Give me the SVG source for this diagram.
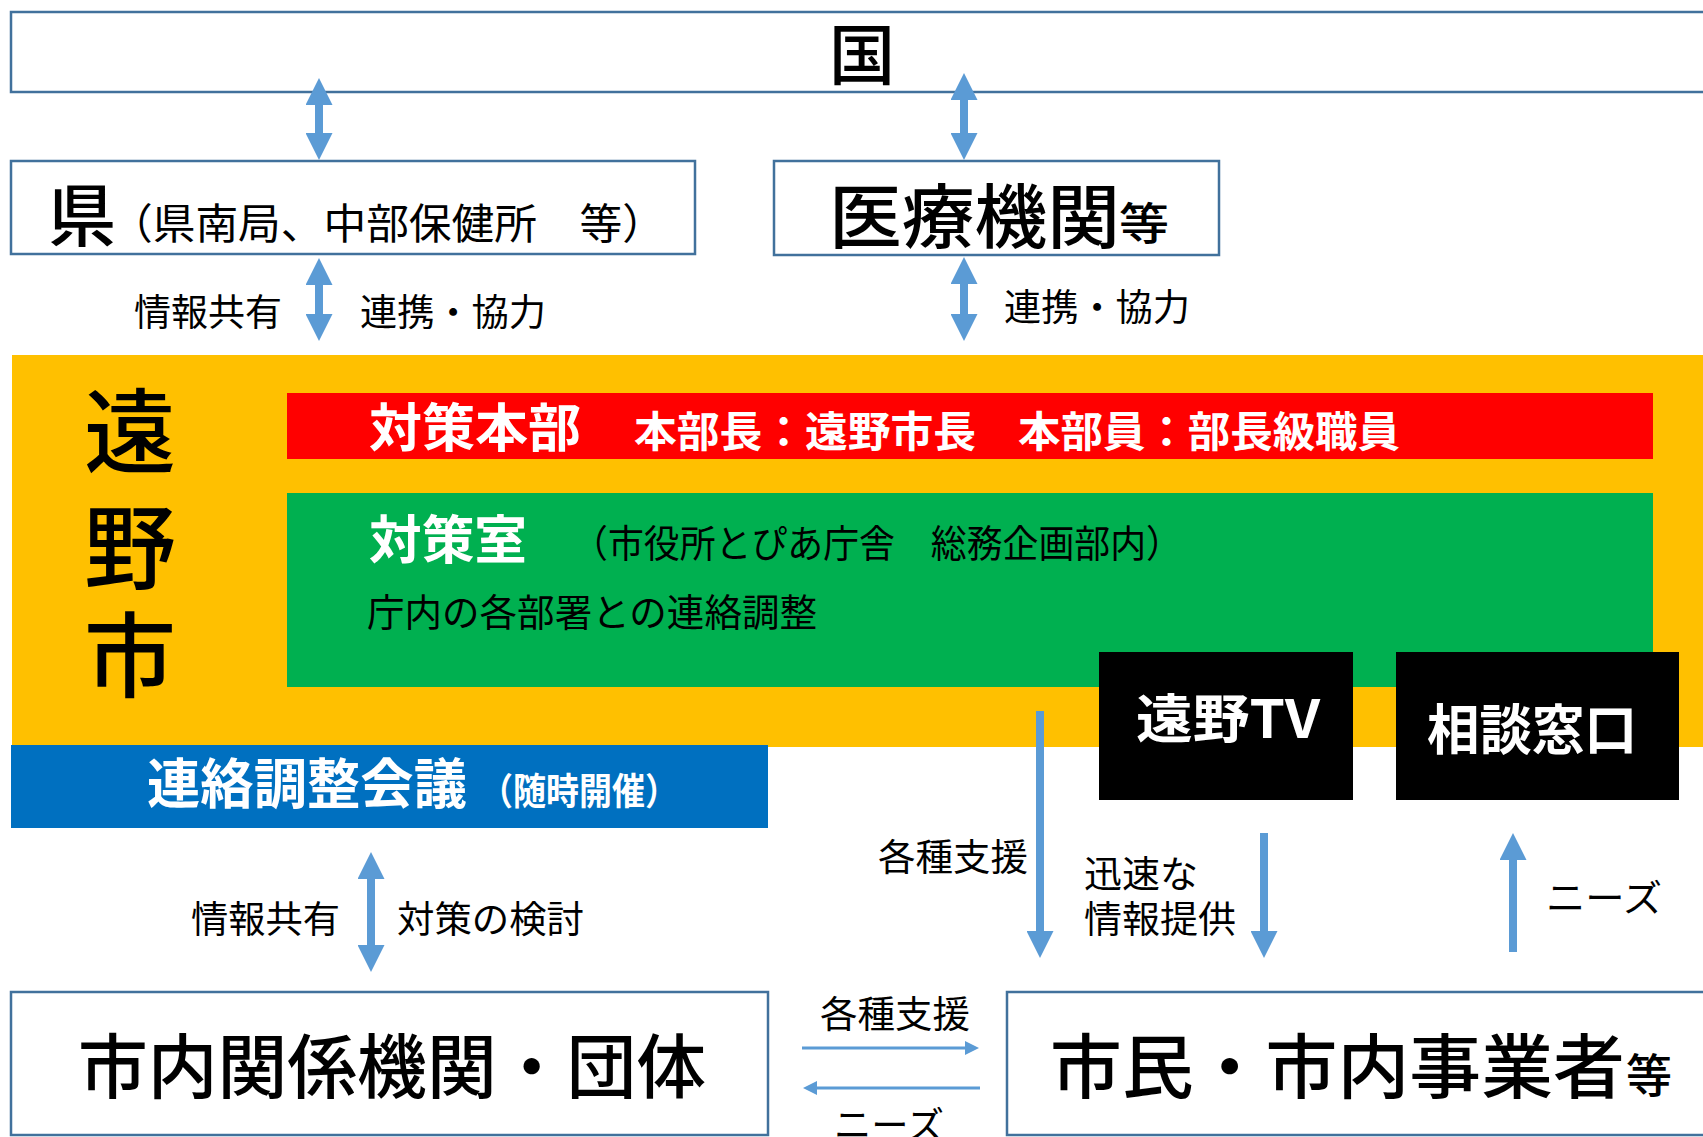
<svg xmlns="http://www.w3.org/2000/svg" width="1703" height="1137" viewBox="0 0 1703 1137">
<defs>
<style>
.box{fill:#fff;stroke:#41719C;stroke-width:2.5}
.t{font-family:"Noto Sans CJK JP","Noto Sans",sans-serif;fill:#000}
.m{font-weight:500}
.b{font-weight:bold}
.w{fill:#fff}
.thick{stroke:#5B9BD5;stroke-width:8;fill:none}
.thin{stroke:#5B9BD5;stroke-width:3;fill:none}
</style>
<marker id="h" viewBox="0 0 27 27" refX="0" refY="13.5" markerWidth="27" markerHeight="27" markerUnits="userSpaceOnUse" orient="auto-start-reverse">
<path d="M0,0 L27,13.5 L0,27 z" fill="#5B9BD5"/>
</marker>
<marker id="s" viewBox="0 0 14 14" refX="0" refY="7" markerWidth="14" markerHeight="14" markerUnits="userSpaceOnUse" orient="auto-start-reverse">
<path d="M0,0 L14,7 L0,14 z" fill="#5B9BD5"/>
</marker>
</defs>
<rect width="1703" height="1137" fill="#fff"/>

<g id="kuni">
<rect class="box" x="11" y="12" width="1710" height="80"/>
<text class="t m" x="862" y="79" font-size="66" text-anchor="middle">国</text>
</g>

<g id="ken">
<rect class="box" x="11" y="161" width="684" height="93"/>
<text class="t m" x="48" y="241" font-size="68" textLength="68" lengthAdjust="spacingAndGlyphs">県</text>
<text class="t" x="110" y="239" font-size="42" textLength="555" lengthAdjust="spacingAndGlyphs">（県南局、中部保健所　等）</text>
</g>

<g id="iryo">
<rect class="box" x="774" y="161" width="445" height="94"/>
<text class="t m" x="829" y="243" font-size="70" textLength="291" lengthAdjust="spacingAndGlyphs">医療機関</text>
<text class="t m" x="1119" y="240" font-size="44" textLength="50" lengthAdjust="spacingAndGlyphs">等</text>
</g>

<g id="tonoshi">
<rect x="12" y="355" width="1700" height="392" fill="#FFC000"/>
<text class="t m" x="130" y="466" font-size="92" text-anchor="middle">遠</text>
<text class="t m" x="130" y="582" font-size="92" text-anchor="middle">野</text>
<text class="t m" x="130" y="690" font-size="92" text-anchor="middle">市</text>
</g>

<g id="honbu">
<rect x="287" y="393" width="1366" height="66" fill="#FF0000"/>
<text class="t b w" x="369" y="447" font-size="52" textLength="212" lengthAdjust="spacingAndGlyphs">対策本部</text>
<text class="t b w" x="634" y="447" font-size="42" textLength="342" lengthAdjust="spacingAndGlyphs">本部長：遠野市長</text>
<text class="t b w" x="1018" y="447" font-size="42" textLength="382" lengthAdjust="spacingAndGlyphs">本部員：部長級職員</text>
</g>

<g id="taisakushitsu">
<rect x="287" y="493" width="1366" height="194" fill="#00B050"/>
<text class="t b w" x="369" y="559" font-size="52" textLength="158" lengthAdjust="spacingAndGlyphs">対策室</text>
<text class="t" x="572" y="557" font-size="38" textLength="610" lengthAdjust="spacingAndGlyphs">（市役所とぴあ庁舎　総務企画部内）</text>
<text class="t" x="367" y="626" font-size="38" textLength="450" lengthAdjust="spacingAndGlyphs">庁内の各部署との連絡調整</text>
</g>

<g id="tonotv">
<rect x="1099" y="652" width="254" height="148" fill="#000"/>
<text class="t b w" x="1136" y="738" font-size="52" textLength="184" lengthAdjust="spacingAndGlyphs">遠野TV</text>
</g>

<g id="soudan">
<rect x="1396" y="652" width="283" height="148" fill="#000"/>
<text class="t b w" x="1427" y="750" font-size="54" textLength="210" lengthAdjust="spacingAndGlyphs">相談窓口</text>
</g>

<g id="renraku">
<rect x="11" y="745" width="757" height="83" fill="#0070C0"/>
<text class="t b w" x="147" y="804" font-size="54" textLength="320" lengthAdjust="spacingAndGlyphs">連絡調整会議</text>
<text class="t b w" x="480" y="805" font-size="37" textLength="198" lengthAdjust="spacingAndGlyphs">（随時開催）</text>
</g>

<g id="kankei">
<rect class="box" x="11" y="992" width="757" height="143"/>
<text class="t m" x="78" y="1093" font-size="70" textLength="628" lengthAdjust="spacingAndGlyphs">市内関係機関・団体</text>
</g>

<g id="shimin">
<rect class="box" x="1007" y="992" width="710" height="143"/>
<text class="t m" x="1050" y="1093" font-size="70" textLength="575" lengthAdjust="spacingAndGlyphs">市民・市内事業者</text>
<text class="t m" x="1626" y="1092" font-size="46" textLength="46" lengthAdjust="spacingAndGlyphs">等</text>
</g>

<g id="connectors">
<line class="thick" x1="319" y1="105" x2="319" y2="133" marker-start="url(#h)" marker-end="url(#h)"/>
<line class="thick" x1="964" y1="100" x2="964" y2="133" marker-start="url(#h)" marker-end="url(#h)"/>
<line class="thick" x1="319" y1="285" x2="319" y2="314" marker-start="url(#h)" marker-end="url(#h)"/>
<line class="thick" x1="964" y1="284" x2="964" y2="314" marker-start="url(#h)" marker-end="url(#h)"/>
<line class="thick" x1="371" y1="879" x2="371" y2="945" marker-start="url(#h)" marker-end="url(#h)"/>
<line class="thick" x1="1040" y1="711" x2="1040" y2="931" marker-end="url(#h)"/>
<line class="thick" x1="1264" y1="833" x2="1264" y2="931" marker-end="url(#h)"/>
<line class="thick" x1="1513" y1="952" x2="1513" y2="860" marker-end="url(#h)"/>
<line class="thin" x1="802" y1="1048" x2="965" y2="1048" marker-end="url(#s)"/>
<line class="thin" x1="980" y1="1088" x2="817" y2="1088" marker-end="url(#s)"/>
</g>

<g id="labels">
<text class="t" x="134" y="326" font-size="37" textLength="148" lengthAdjust="spacingAndGlyphs">情報共有</text>
<text class="t" x="360" y="326" font-size="37" textLength="186" lengthAdjust="spacingAndGlyphs">連携・協力</text>
<text class="t" x="1004" y="321" font-size="37" textLength="186" lengthAdjust="spacingAndGlyphs">連携・協力</text>
<text class="t" x="191" y="933" font-size="37" textLength="149" lengthAdjust="spacingAndGlyphs">情報共有</text>
<text class="t" x="397" y="933" font-size="37" textLength="187" lengthAdjust="spacingAndGlyphs">対策の検討</text>
<text class="t" x="878" y="871" font-size="37" textLength="150" lengthAdjust="spacingAndGlyphs">各種支援</text>
<text class="t" x="1084" y="888" font-size="37" textLength="114" lengthAdjust="spacingAndGlyphs">迅速な</text>
<text class="t" x="1084" y="933" font-size="37" textLength="152" lengthAdjust="spacingAndGlyphs">情報提供</text>
<text class="t" x="1546" y="912" font-size="37" textLength="116" lengthAdjust="spacingAndGlyphs">ニーズ</text>
<text class="t" x="820" y="1028" font-size="37" textLength="150" lengthAdjust="spacingAndGlyphs">各種支援</text>
<text class="t" x="834" y="1139" font-size="37" textLength="110" lengthAdjust="spacingAndGlyphs">ニーズ</text>
</g>
</svg>
